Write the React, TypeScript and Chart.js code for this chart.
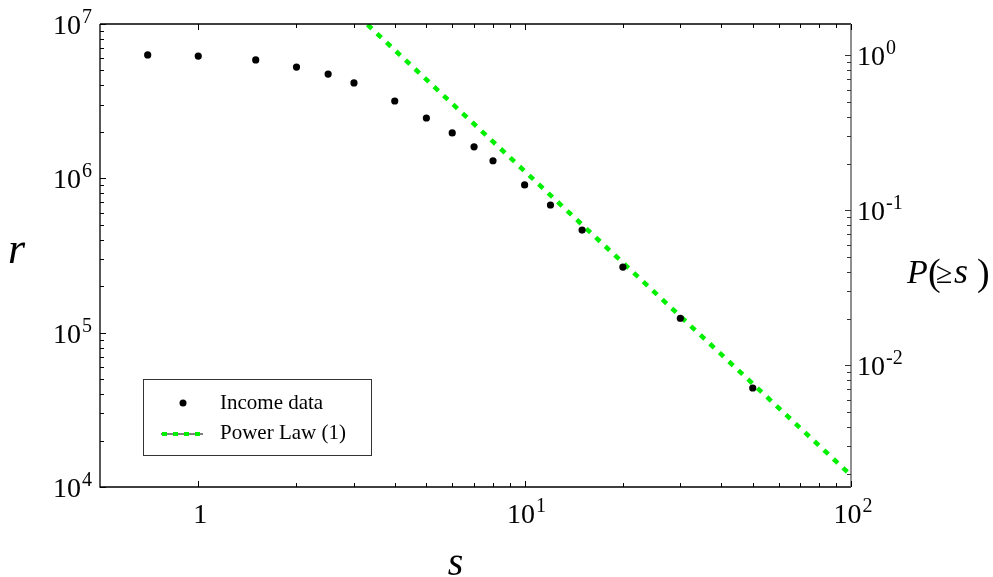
import React, { useEffect, useRef } from 'react';
import { Chart, registerables } from 'chart.js';

Chart.register(...registerables);

// ---- data ----
const incomeS = [0.7, 1, 1.5, 2, 2.5, 3, 4, 5, 6, 7, 8, 10, 12, 15, 20, 30, 50];
const incomeR = [6.3e6, 6.2e6, 5.85e6, 5.26e6, 4.74e6, 4.15e6, 3.17e6, 2.46e6, 1.97e6, 1.6e6, 1.3e6, 9.06e5, 6.72e5, 4.62e5, 2.66e5, 1.24e5, 4.38e4];
const powerLawS = [3.3, 100];
const powerLawR = [9.9e6, 1.19e4];
const seriesLabels = ['Income data', 'Power Law (1)'];

// ---- axes ----
const xRange = [0.5, 100];
const rRange = [1e4, 1e7];
const pRange = [0.00164, 1.592];
const xTickLabels = [
  { value: 1, base: '1', exp: '' },
  { value: 10, base: '10', exp: '1' },
  { value: 100, base: '10', exp: '2' },
];
const rTickLabels = [
  { value: 1e4, base: '10', exp: '4' },
  { value: 1e5, base: '10', exp: '5' },
  { value: 1e6, base: '10', exp: '6' },
  { value: 1e7, base: '10', exp: '7' },
];
const pTickLabels = [
  { value: 1, base: '10', exp: '0' },
  { value: 0.1, base: '10', exp: '-1' },
  { value: 0.01, base: '10', exp: '-2' },
];
const xTitle = 's';
const rTitle = 'r';
const pTitle = ['P', '(', '≥', 's', ')'];

const SERIF = "'Liberation Serif', 'Times New Roman', serif";
const GREEN = '#00f000';

function logTicks(fromExp: number, toExp: number) {
  const out: { value: number; major: boolean }[] = [];
  for (let e = fromExp; e <= toExp; e++) {
    for (let k = 1; k <= 9; k++) {
      if (e === toExp && k > 1) break;
      out.push({ value: Number((k * Math.pow(10, e)).toPrecision(6)), major: k === 1 });
    }
  }
  return out;
}

function drawPow(ctx: CanvasRenderingContext2D, base: string, exp: string, x: number, baseline: number, align: 'left' | 'right' | 'center') {
  ctx.font = `28px ${SERIF}`;
  const wb = ctx.measureText(base).width;
  ctx.font = `20px ${SERIF}`;
  const we = exp ? ctx.measureText(exp).width + 1 : 0;
  const total = wb + we;
  let sx = x;
  if (align === 'right') sx = x - total;
  else if (align === 'center') sx = x - total / 2;
  ctx.textAlign = 'left';
  ctx.textBaseline = 'alphabetic';
  ctx.font = `28px ${SERIF}`;
  ctx.fillText(base, sx, baseline);
  if (exp) {
    ctx.font = `20px ${SERIF}`;
    ctx.fillText(exp, sx + wb + 1, baseline - 11);
  }
}

const decoPlugin = {
  id: 'deco',
  afterDatasetsDraw(chart: any) {
    const ctx: CanvasRenderingContext2D = chart.ctx;
    const { left, right, top, bottom } = chart.chartArea;
    const xs = chart.scales.x;
    const ys = chart.scales.y;
    const ps = chart.scales.p;
    ctx.save();

    // frame
    ctx.lineWidth = 1.3;
    ctx.strokeStyle = '#000';
    ctx.beginPath();
    ctx.moveTo(left, top);
    ctx.lineTo(right, top);
    ctx.moveTo(left, top);
    ctx.lineTo(left, bottom);
    ctx.lineTo(right, bottom);
    ctx.stroke();
    ctx.strokeStyle = '#6a6a6a';
    ctx.lineWidth = 1.5;
    ctx.beginPath();
    ctx.moveTo(right, top);
    ctx.lineTo(right, bottom);
    ctx.stroke();

    // x ticks (top and bottom, inward)
    ctx.lineWidth = 1;
    ctx.strokeStyle = '#000';
    ctx.beginPath();
    for (const t of logTicks(0, 2)) {
      if (t.value < xs.min || t.value > xs.max) continue;
      const px = Math.round(xs.getPixelForValue(t.value)) + 0.5;
      const len = t.major ? 6 : 4;
      ctx.moveTo(px, bottom);
      ctx.lineTo(px, bottom - len);
      ctx.moveTo(px, top);
      ctx.lineTo(px, top + len);
    }
    // left r ticks
    for (const t of logTicks(4, 7)) {
      if (t.value < ys.min || t.value > ys.max) continue;
      const py = Math.round(ys.getPixelForValue(t.value)) + 0.5;
      const len = t.major ? 6 : 4;
      ctx.moveTo(left, py);
      ctx.lineTo(left + len, py);
    }
    ctx.stroke();
    // right p ticks
    ctx.strokeStyle = '#333';
    ctx.beginPath();
    for (const t of logTicks(-3, 0)) {
      if (t.value < ps.min || t.value > ps.max) continue;
      const py = Math.round(ps.getPixelForValue(t.value)) + 0.5;
      const len = t.major ? 6 : 4;
      ctx.moveTo(right, py);
      ctx.lineTo(right - len, py);
    }
    ctx.stroke();

    // tick labels
    ctx.fillStyle = '#000';
    for (const t of xTickLabels) {
      drawPow(ctx, t.base, t.exp, xs.getPixelForValue(t.value) + 2, bottom + 36, 'center');
    }
    for (const t of rTickLabels) {
      drawPow(ctx, t.base, t.exp, left - 8, ys.getPixelForValue(t.value) + 10, 'right');
    }
    for (const t of pTickLabels) {
      drawPow(ctx, t.base, t.exp, right + 6, ps.getPixelForValue(t.value) + 10, 'left');
    }

    // axis titles
    ctx.textBaseline = 'alphabetic';
    ctx.font = `italic 40px ${SERIF}`;
    ctx.textAlign = 'center';
    ctx.fillText(xTitle, (left + right) / 2 - 20, 575);
    ctx.font = `italic 44px ${SERIF}`;
    ctx.textAlign = 'left';
    ctx.fillText(rTitle, 8, 263);
    const pxs = [907, 928, 936, 954, 977];
    const pys = [283, 285, 283, 283, 285];
    const pfonts = [`italic 34px ${SERIF}`, `38px ${SERIF}`, `30px ${SERIF}`, `italic 36px ${SERIF}`, `38px ${SERIF}`];
    pTitle.forEach((s, i) => {
      ctx.font = pfonts[i];
      ctx.fillText(s, pxs[i], pys[i]);
    });

    // legend
    const lx = 143, ly = 379, lw = 228, lh = 76;
    ctx.fillStyle = '#fff';
    ctx.fillRect(lx, ly, lw, lh);
    ctx.strokeStyle = '#333';
    ctx.lineWidth = 1;
    ctx.strokeRect(lx + 0.5, ly + 0.5, lw, lh);
    const ds = chart.data.datasets;
    ctx.fillStyle = '#000';
    ctx.beginPath();
    ctx.arc(183, 403, 3.5, 0, Math.PI * 2);
    ctx.fill();
    ctx.strokeStyle = '#555';
    ctx.lineWidth = 1.5;
    ctx.beginPath();
    ctx.moveTo(161, 434);
    ctx.lineTo(203, 434);
    ctx.stroke();
    ctx.strokeStyle = GREEN;
    ctx.lineWidth = 4;
    ctx.setLineDash([5, 6]);
    ctx.beginPath();
    ctx.moveTo(162, 434);
    ctx.lineTo(203, 434);
    ctx.stroke();
    ctx.setLineDash([]);
    ctx.fillStyle = '#000';
    ctx.font = `21px ${SERIF}`;
    ctx.textAlign = 'left';
    ctx.fillText(ds[0].label, 220, 409);
    ctx.fillText(ds[1].label, 220, 439);

    ctx.restore();
  },
};

export default function App() {
  const ref = useRef<HTMLCanvasElement | null>(null);
  useEffect(() => {
    if (!ref.current) return;
    const chart = new Chart(ref.current, {
      type: 'scatter',
      data: {
        datasets: [
          {
            label: seriesLabels[0],
            data: incomeS.map((s, i) => ({ x: s, y: incomeR[i] })),
            yAxisID: 'y',
            backgroundColor: '#000',
            borderColor: '#000',
            pointRadius: 3.6,
            pointBorderWidth: 0,
            showLine: false,
          },
          {
            label: seriesLabels[1],
            data: powerLawS.map((s, i) => ({ x: s, y: powerLawR[i] })),
            yAxisID: 'y',
            borderColor: GREEN,
            backgroundColor: GREEN,
            borderWidth: 4.5,
            borderDash: [6, 7],
            borderCapStyle: 'butt',
            pointRadius: 0,
            showLine: true,
          },
        ],
      },
      options: {
        animation: false,
        responsive: false,
        devicePixelRatio: 1,
        layout: { padding: { left: 100, top: 24, right: 142, bottom: 90 } },
        plugins: { legend: { display: false }, tooltip: { enabled: false } },
        scales: {
          x: { type: 'logarithmic', min: xRange[0], max: xRange[1], display: false },
          y: { type: 'logarithmic', min: rRange[0], max: rRange[1], display: false },
          p: { type: 'logarithmic', position: 'right', min: pRange[0], max: pRange[1], display: false },
        },
      },
      plugins: [decoPlugin],
    } as any);
    return () => chart.destroy();
  }, []);
  return (
    <div style={{ position: 'absolute', left: 0, top: 0, width: 993, height: 577, background: '#fff' }}>
      <canvas ref={ref} width={993} height={577} style={{ width: 993, height: 577, display: 'block' }} />
    </div>
  );
}
